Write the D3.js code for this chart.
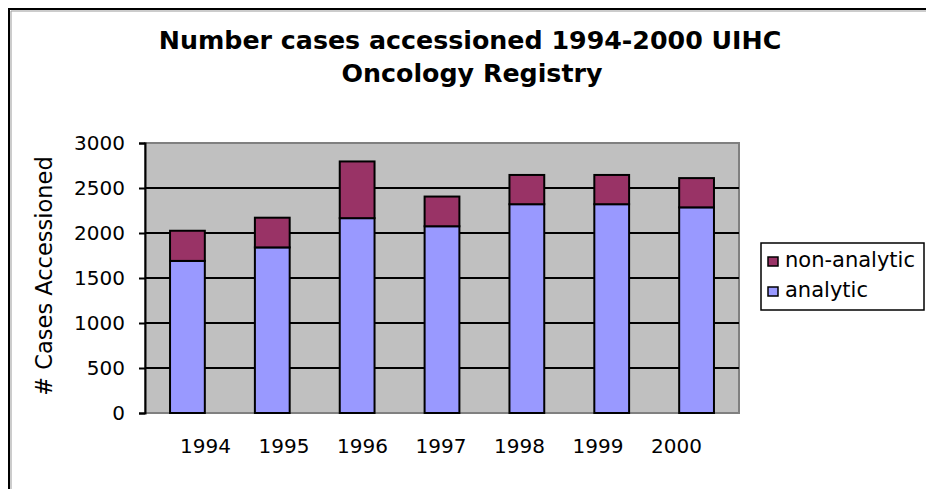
<!DOCTYPE html>
<html lang="en">
<head>
<meta charset="utf-8">
<script src="https://d3js.org/d3.v7.min.js"></script>
<style>
  body { margin: 0; background: #fff; }
  text { font-family: "DejaVu Sans", Verdana, sans-serif; fill: #000; }
</style>
</head>
<body>
<svg width="926" height="489"></svg>
<script>
    // data
    var years = ["1994", "1995", "1996", "1997", "1998", "1999", "2000"];
    var analytic = [1690, 1840, 2165, 2075, 2320, 2320, 2285];
    var nonAnalytic = [335, 330, 630, 330, 325, 325, 325];
    var seriesNames = ["non-analytic", "analytic"];
    var yTicks = [0, 500, 1000, 1500, 2000, 2500, 3000];

    var svg = d3.select("svg");

    // plot area (don't call it "top", that's window.top!)
    var pLeft = 145, pTop = 143, pRight = 739, pBottom = 413;

    var x = d3.scaleBand().domain(years).range([pLeft, pRight])
        .paddingInner(0.59).paddingOuter(0.295);
    var y = d3.scaleLinear().domain([0, 3000]).range([pBottom, pTop]);
    // the year labels sit a bit off the bars in the original
    var xLab = d3.scalePoint().domain(years).range([205, 676]);

    // outer frame (only top + left are in the picture)
    svg.append("path").attr("d", "M9,489V9H926")
        .attr("fill", "none").attr("stroke", "#000").attr("stroke-width", 2);
    svg.append("path").attr("d", "M11,489V11H926")
        .attr("fill", "none").attr("stroke", "#999").attr("stroke-width", 1);

    // title
    var title = svg.append("text").attr("text-anchor", "middle")
        .style("font-weight", "bold").style("font-size", "25.3px");
    title.append("tspan").attr("x", 470).attr("y", 49).text("Number cases accessioned 1994-2000 UIHC");
    title.append("tspan").attr("x", 472).attr("y", 82).text("Oncology Registry");

    // grey plot background
    svg.append("rect")
        .attr("x", pLeft).attr("y", pTop)
        .attr("width", pRight - pLeft).attr("height", pBottom - pTop)
        .attr("fill", "#c0c0c0").attr("stroke", "#808080").attr("stroke-width", 2);

    // gridlines
    svg.append("g").selectAll("line").data(yTicks.slice(1, -1)).enter().append("line")
        .attr("x1", pLeft).attr("x2", pRight)
        .attr("y1", function (d) { return y(d); })
        .attr("y2", function (d) { return y(d); })
        .attr("stroke", "#000").attr("stroke-width", 2);

    // stacked bars
    var stack = d3.stack().keys(["analytic", "nonAnalytic"]);
    var rows = years.map(function (yr, i) {
        return { year: yr, analytic: analytic[i], nonAnalytic: nonAnalytic[i] };
    });
    var colors = { analytic: "#9999ff", nonAnalytic: "#993366" };

    svg.append("g").selectAll("g").data(stack(rows)).enter().append("g")
        .attr("fill", function (s) { return colors[s.key]; })
        .selectAll("rect").data(function (s) { return s; }).enter().append("rect")
        .attr("x", function (d) { return x(d.data.year); })
        .attr("width", x.bandwidth())
        .attr("y", function (d) { return y(d[1]); })
        .attr("height", function (d) { return y(d[0]) - y(d[1]); })
        .attr("stroke", "#000").attr("stroke-width", 2);

    // y axis - no thousands comma
    var yAxis = svg.append("g")
        .attr("transform", "translate(" + pLeft + ",0)")
        .call(d3.axisLeft(y).tickValues(yTicks).tickFormat(d3.format("d"))
            .tickSize(6).tickPadding(14));
    yAxis.select(".domain").attr("stroke-width", 2);
    yAxis.selectAll(".tick line").attr("stroke-width", 2);
    yAxis.selectAll("text").style("font-size", "20px").style("font-family", "DejaVu Sans");

    // x labels, no ticks
    var xAxis = svg.append("g")
        .attr("transform", "translate(0," + pBottom + ")")
        .call(d3.axisBottom(xLab).tickSize(0).tickPadding(26));
    xAxis.select(".domain").remove();
    xAxis.selectAll("text").style("font-size", "20px").style("font-family", "DejaVu Sans");

    // y label
    svg.append("text")
        .attr("transform", "translate(52,276) rotate(-90)")
        .attr("text-anchor", "middle")
        .style("font-size", "22.5px")
        .text("# Cases Accessioned");

    // legend
    var legend = svg.append("g").attr("transform", "translate(761,243)");
    legend.append("rect").attr("width", 163).attr("height", 67)
        .attr("fill", "#fff").attr("stroke", "#000").attr("stroke-width", 1.5);
    var items = legend.selectAll("g.item").data(seriesNames).enter().append("g")
        .attr("class", "item")
        .attr("transform", function (d, i) { return "translate(7," + (14 + i * 30) + ")"; });
    items.append("rect").attr("width", 10).attr("height", 9)
        .attr("fill", function (d, i) { return i == 0 ? colors.nonAnalytic : colors.analytic; })
        .attr("stroke", "#000").attr("stroke-width", 1.5);
    items.append("text").attr("x", 17).attr("y", 10)
        .style("font-size", "21px")
        .text(function (d) { return d; });
</script>
</body>
</html>
